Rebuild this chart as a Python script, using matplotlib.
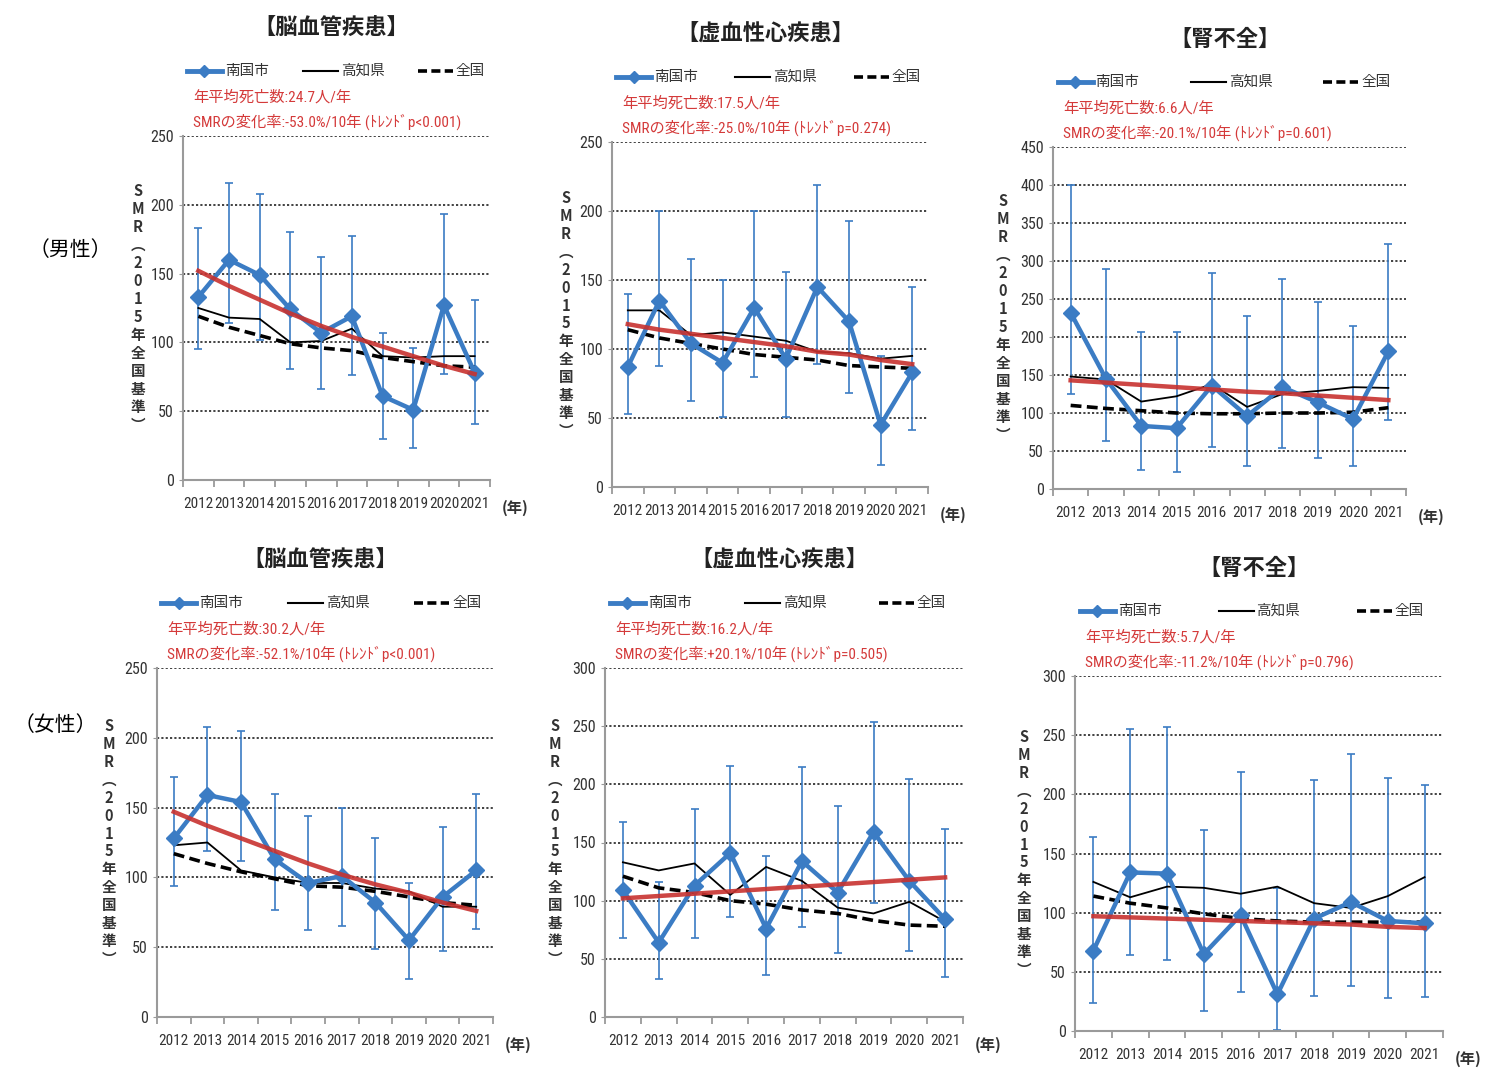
import matplotlib
matplotlib.use("Agg")
import matplotlib.pyplot as plt
from matplotlib import font_manager
from matplotlib.transforms import offset_copy

plt.rcParams["font.family"] = ["Noto Sans CJK JP", "DejaVu Sans"]

# pick a narrow latin face if one is installed
installed = {f.name for f in font_manager.fontManager.ttflist}
narrow = None
for cand in ["Roboto Condensed", "PT Sans Narrow", "Archivo Narrow",
             "Liberation Sans Narrow", "Open Sans Condensed", "Fira Sans Condensed"]:
    if cand in installed:
        narrow = cand
        break
NARROW = ([narrow] if narrow else []) + ["Noto Sans CJK JP", "DejaVu Sans"]
TICK_FS = 11 if narrow else 8.5

years = [str(y) for y in range(2012, 2022)]

# 男性 脳血管疾患
m_cbv_city = [133, 160, 149, 124, 107, 119, 61, 51, 127, 78]
m_cbv_lo = [95, 114, 102, 81, 66, 76, 30, 23, 77, 41]
m_cbv_hi = [183, 216, 208, 180, 162, 177, 107, 96, 193, 131]
m_cbv_kochi = [125, 118, 117, 100, 101, 110, 90, 89, 90, 90]
m_cbv_nation = [119, 111, 105, 99, 96, 94, 89, 86, 83, 82]
m_cbv_trend = [152, 141, 131, 121, 112, 104, 97, 90, 83, 77]

# 男性 虚血性心疾患
m_ihd_city = [87, 135, 104, 90, 130, 93, 145, 120, 45, 83]
m_ihd_lo = [53, 88, 62, 51, 80, 51, 89, 68, 16, 41]
m_ihd_hi = [140, 200, 165, 150, 200, 156, 219, 193, 95, 145]
m_ihd_kochi = [128, 128, 110, 112, 109, 106, 98, 97, 93, 95]
m_ihd_nation = [114, 108, 104, 100, 96, 94, 92, 88, 87, 86]
m_ihd_trend = [118, 114, 111, 108, 105, 102, 98, 96, 92, 89]

# 男性 腎不全
m_rf_city = [232, 145, 83, 80, 136, 96, 134, 114, 92, 181]
m_rf_lo = [125, 63, 25, 22, 55, 30, 54, 41, 30, 91]
m_rf_hi = [400, 289, 207, 207, 284, 227, 276, 246, 215, 323]
m_rf_kochi = [148, 144, 115, 122, 138, 108, 125, 129, 134, 133]
m_rf_nation = [110, 106, 103, 100, 99, 99, 100, 100, 101, 107]
m_rf_trend = [143, 140, 137, 134, 131, 128, 126, 123, 120, 117]

# 女性 脳血管疾患
f_cbv_city = [128, 159, 154, 113, 96, 101, 82, 55, 86, 105]
f_cbv_lo = [94, 119, 112, 77, 62, 65, 49, 27, 47, 63]
f_cbv_hi = [172, 208, 205, 160, 144, 150, 128, 96, 136, 160]
f_cbv_kochi = [123, 125, 105, 100, 96, 96, 92, 90, 79, 79]
f_cbv_nation = [117, 110, 104, 99, 94, 93, 90, 86, 82, 80]
f_cbv_trend = [147, 137, 128, 119, 110, 102, 95, 89, 82, 76]

# 女性 虚血性心疾患
f_ihd_city = [109, 64, 113, 141, 76, 134, 107, 159, 117, 84]
f_ihd_lo = [68, 33, 68, 86, 36, 77, 55, 98, 57, 34]
f_ihd_hi = [168, 116, 179, 216, 138, 215, 181, 254, 205, 162]
f_ihd_kochi = [133, 126, 132, 105, 129, 117, 94, 89, 99, 82]
f_ihd_nation = [121, 111, 107, 100, 97, 92, 89, 83, 79, 78]
f_ihd_trend = [102, 104, 106, 108, 110, 112, 114, 116, 118, 120]

# 女性 腎不全
f_rf_city = [68, 134, 133, 65, 98, 31, 95, 109, 93, 91]
f_rf_lo = [24, 64, 60, 17, 33, 1, 30, 38, 28, 29]
f_rf_hi = [164, 255, 257, 170, 219, 121, 212, 234, 214, 208]
f_rf_kochi = [126, 113, 122, 121, 116, 122, 108, 104, 114, 130]
f_rf_nation = [114, 108, 104, 99, 95, 93, 92, 92, 92, 92]
f_rf_trend = [97, 96, 95, 94, 93, 92, 91, 90, 88, 87]

titles = ["【脳血管疾患】", "【虚血性心疾患】", "【腎不全】",
          "【脳血管疾患】", "【虚血性心疾患】", "【腎不全】"]
deaths = ["24.7", "17.5", "6.6", "30.2", "16.2", "5.7"]
changes = ["-53.0%/10年 (ﾄﾚﾝﾄﾞp<0.001)", "-25.0%/10年 (ﾄﾚﾝﾄﾞp=0.274)",
           "-20.1%/10年 (ﾄﾚﾝﾄﾞp=0.601)", "-52.1%/10年 (ﾄﾚﾝﾄﾞp<0.001)",
           "+20.1%/10年 (ﾄﾚﾝﾄﾞp=0.505)", "-11.2%/10年 (ﾄﾚﾝﾄﾞp=0.796)"]
ymaxes = [250, 250, 450, 250, 300, 300]

series = [
    (m_cbv_city, m_cbv_lo, m_cbv_hi, m_cbv_kochi, m_cbv_nation, m_cbv_trend),
    (m_ihd_city, m_ihd_lo, m_ihd_hi, m_ihd_kochi, m_ihd_nation, m_ihd_trend),
    (m_rf_city, m_rf_lo, m_rf_hi, m_rf_kochi, m_rf_nation, m_rf_trend),
    (f_cbv_city, f_cbv_lo, f_cbv_hi, f_cbv_kochi, f_cbv_nation, f_cbv_trend),
    (f_ihd_city, f_ihd_lo, f_ihd_hi, f_ihd_kochi, f_ihd_nation, f_ihd_trend),
    (f_rf_city, f_rf_lo, f_rf_hi, f_rf_kochi, f_rf_nation, f_rf_trend),
]

# axes boxes in pixels: left, top, right, bottom
boxes = [(183, 136, 490, 480), (612, 142, 928, 487), (1053, 147, 1406, 489),
         (157, 668, 493, 1017), (605, 668, 963, 1017), (1075, 676, 1443, 1031)]
ylab_dx = [-45, -46, -50, -48, -50, -51]

W, H = 1488, 1072
BLUE = "#3B7CC4"
RED = "#C8322F"
TXTRED = "#D43A3A"

fig = plt.figure(figsize=(W / 100, H / 100), dpi=100)

for i, (l, t, r, b) in enumerate(boxes):
    ax = fig.add_axes([l / W, 1 - b / H, (r - l) / W, (b - t) / H])
    city, lo, hi, kochi, nation, trend = series[i]
    x = list(range(len(years)))
    ymax = ymaxes[i]

    yerr = [[c - v for c, v in zip(city, lo)], [v - c for c, v in zip(city, hi)]]
    ax.errorbar(x, city, yerr=yerr, fmt="none", ecolor=BLUE, elinewidth=1.2,
                capsize=3, capthick=1.2, zorder=2)
    ax.plot(x, kochi, color="black", lw=1.3, zorder=3)
    ax.plot(x, nation, color="black", lw=2.6, ls=(0, (3, 1.5)), zorder=3)
    ax.plot(x, city, color=BLUE, lw=3.2, marker="D", ms=8, zorder=4)
    ax.plot(x, trend, color=RED, lw=3.2, alpha=0.9, zorder=5)

    ax.set_xlim(-0.5, len(years) - 0.5)
    ax.set_ylim(0, ymax)
    ax.set_yticks(range(0, ymax + 1, 50))
    ax.yaxis.grid(True, ls=(0, (1.2, 1.2)), color="#333333", lw=1.3)
    ax.set_axisbelow(True)
    for s in ["top", "right"]:
        ax.spines[s].set_visible(False)
    for s in ["left", "bottom"]:
        ax.spines[s].set_color("#9a9a9a")
        ax.spines[s].set_linewidth(1.5)
    ax.set_xticks(x)
    ax.set_xticklabels(years, family=NARROW, fontsize=TICK_FS, color="#333333")
    ax.set_xticks([v - 0.5 for v in range(len(years) + 1)], minor=True)
    ax.tick_params(axis="x", which="major", length=0, pad=12)
    ax.tick_params(axis="x", which="minor", length=5, color="#9a9a9a", width=1.3)
    ax.tick_params(axis="y", length=3, color="#9a9a9a", labelsize=11.5,
                   labelcolor="#333333")
    for lab in ax.get_yticklabels():
        lab.set_family(NARROW)

    # title
    tr = offset_copy(ax.transAxes, fig=fig, x=-5, y=108, units="dots")
    ax.text(0.5, 1, titles[i], transform=tr, ha="center", va="center",
            fontsize=16, fontweight="bold", color="#222222")

    # legend
    wpx = r - l
    tr = offset_copy(ax.transAxes, fig=fig, x=0, y=65, units="dots")
    items = [("南国市", dict(color=BLUE, lw=3.5, marker="D", ms=6, markevery=[1])),
             ("高知県", dict(color="black", lw=1.5)),
             ("全国", dict(color="black", lw=2.6, ls=(0, (2.5, 1.2))))]
    for k, (name, kw) in enumerate(items):
        x0 = [0.013, 0.39, 0.765][k]
        x1 = x0 + 35 / wpx
        ax.plot([x0, (x0 + x1) / 2, x1], [1, 1, 1], transform=tr, clip_on=False, **kw)
        ax.text(x1 + 3 / wpx, 1, name, transform=tr, ha="left", va="center",
                fontsize=10.5, color="#333333")

    # red annotations
    tr = offset_copy(ax.transAxes, fig=fig, x=10, y=39, units="dots")
    ax.text(0, 1, "年平均死亡数:" + deaths[i] + "人/年", transform=tr, ha="left",
            va="center", fontsize=11, color=TXTRED, family=NARROW)
    tr = offset_copy(ax.transAxes, fig=fig, x=10, y=14, units="dots")
    ax.text(0, 1, "SMRの変化率:" + changes[i], transform=tr, ha="left",
            va="center", fontsize=11, color=TXTRED, family=NARROW)

    # (年) next to x labels
    tr = offset_copy(ax.transAxes, fig=fig, x=12, y=-28, units="dots")
    ax.text(1, 0, "(年)", transform=tr, ha="left", va="center",
            fontsize=11, fontweight="bold", color="#333333")

    # stacked vertical y label
    ylab = "\n".join(["S", "M", "R", "︵", "2", "0", "1", "5",
                      "年", "全", "国", "基", "準", "︶"])
    tr = offset_copy(ax.transAxes, fig=fig, x=ylab_dx[i], y=0, units="dots")
    ax.text(0, 0.5, ylab, transform=tr, ha="center", va="center",
            fontsize=10.5, fontweight="bold", linespacing=1.15, color="#333333")

fig.text(70 / W, 1 - 250 / H, "（男性）", ha="center", va="center", fontsize=15)
fig.text(55 / W, 1 - 725 / H, "（女性）", ha="center", va="center", fontsize=15)

fig.savefig("out.png", dpi=100)
